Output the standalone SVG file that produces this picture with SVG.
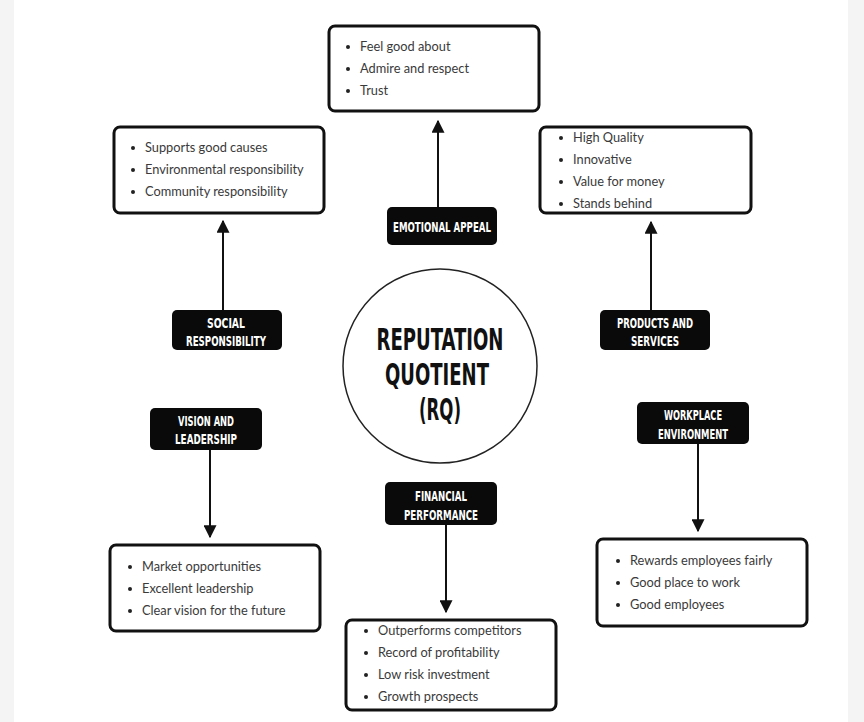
<svg xmlns="http://www.w3.org/2000/svg" width="864" height="722" viewBox="0 0 864 722">
<defs>
<style>
.box{fill:#fff;stroke:#111;stroke-width:3}
.lbl{fill:#0a0a0a}
.bt{font-family:Lato,"Liberation Sans",sans-serif;font-size:12.8px;fill:#3a3a3a}
.lt{font-family:"DejaVu Sans Condensed","Liberation Sans",sans-serif;font-weight:bold;font-size:14px;fill:#fff;text-anchor:middle}
.ct{font-family:"DejaVu Sans Condensed","Liberation Sans",sans-serif;font-weight:bold;font-size:30px;fill:#111;text-anchor:middle}
.cn{stroke:#111;stroke-width:2;fill:none}
</style>
<marker id="ah" viewBox="0 0 10 10" refX="9" refY="5" markerWidth="6.5" markerHeight="6.5" orient="auto-start-reverse">
<path d="M0,0 L10,5 L0,10 z" fill="#111"/>
</marker>
<circle id="b" r="2" fill="#222"/>
</defs>
<rect x="0" y="0" width="864" height="722" fill="#f4f4f4"/>
<rect x="14" y="0" width="834" height="722" fill="#fff"/>

<g id="connectors">
<line class="cn" x1="438" y1="207" x2="438" y2="121" marker-end="url(#ah)"/>
<line class="cn" x1="223" y1="310" x2="223" y2="221" marker-end="url(#ah)"/>
<line class="cn" x1="651" y1="310" x2="651" y2="222" marker-end="url(#ah)"/>
<line class="cn" x1="210" y1="450" x2="210" y2="537" marker-end="url(#ah)"/>
<line class="cn" x1="698" y1="444" x2="698" y2="531" marker-end="url(#ah)"/>
<line class="cn" x1="446" y1="525" x2="446" y2="612" marker-end="url(#ah)"/>
</g>

<g id="center">
<circle cx="440" cy="366" r="97" fill="#fff" stroke="#222" stroke-width="1.5"/>
<text class="ct" x="440" y="350" textLength="127" lengthAdjust="spacingAndGlyphs">REPUTATION</text>
<text class="ct" x="437" y="385" textLength="104" lengthAdjust="spacingAndGlyphs">QUOTIENT</text>
<text class="ct" x="440" y="420" textLength="42" lengthAdjust="spacingAndGlyphs">(RQ)</text>
</g>

<g id="box-emotional">
<rect class="box" x="329" y="26" width="210" height="85" rx="6"/>
<use href="#b" x="348" y="47"/><text class="bt" x="360" y="51">Feel good about</text>
<use href="#b" x="348" y="69"/><text class="bt" x="360" y="73">Admire and respect</text>
<use href="#b" x="348" y="91"/><text class="bt" x="360" y="95">Trust</text>
</g>

<g id="box-social">
<rect class="box" x="114" y="127" width="210" height="86" rx="6"/>
<use href="#b" x="133" y="148"/><text class="bt" x="145" y="152">Supports good causes</text>
<use href="#b" x="133" y="170"/><text class="bt" x="145" y="174">Environmental responsibility</text>
<use href="#b" x="133" y="192"/><text class="bt" x="145" y="196">Community responsibility</text>
</g>

<g id="box-products">
<rect class="box" x="540" y="127" width="211" height="86" rx="6"/>
<use href="#b" x="561" y="138"/><text class="bt" x="573" y="142">High Quality</text>
<use href="#b" x="561" y="160"/><text class="bt" x="573" y="164">Innovative</text>
<use href="#b" x="561" y="182"/><text class="bt" x="573" y="186">Value for money</text>
<use href="#b" x="561" y="204"/><text class="bt" x="573" y="208">Stands behind</text>
</g>

<g id="box-vision">
<rect class="box" x="110" y="545" width="210" height="86" rx="6"/>
<use href="#b" x="130" y="567"/><text class="bt" x="142" y="571">Market opportunities</text>
<use href="#b" x="130" y="589"/><text class="bt" x="142" y="593">Excellent leadership</text>
<use href="#b" x="130" y="611"/><text class="bt" x="142" y="615">Clear vision for the future</text>
</g>

<g id="box-financial">
<rect class="box" x="346" y="620" width="210" height="90" rx="6"/>
<use href="#b" x="366" y="631"/><text class="bt" x="378" y="635">Outperforms competitors</text>
<use href="#b" x="366" y="653"/><text class="bt" x="378" y="657">Record of profitability</text>
<use href="#b" x="366" y="675"/><text class="bt" x="378" y="679">Low risk investment</text>
<use href="#b" x="366" y="697"/><text class="bt" x="378" y="701">Growth prospects</text>
</g>

<g id="box-workplace">
<rect class="box" x="597" y="539" width="210" height="87" rx="6"/>
<use href="#b" x="618" y="561"/><text class="bt" x="630" y="565">Rewards employees fairly</text>
<use href="#b" x="618" y="583"/><text class="bt" x="630" y="587">Good place to work</text>
<use href="#b" x="618" y="605"/><text class="bt" x="630" y="609">Good employees</text>
</g>

<g id="label-emotional">
<rect class="lbl" x="387" y="207" width="110" height="38" rx="5"/>
<text class="lt" x="442" y="232" textLength="98" lengthAdjust="spacingAndGlyphs">EMOTIONAL APPEAL</text>
</g>
<g id="label-social">
<rect class="lbl" x="172" y="310" width="110" height="40" rx="5"/>
<text class="lt" x="226" y="328" textLength="38" lengthAdjust="spacingAndGlyphs">SOCIAL</text>
<text class="lt" x="226" y="346" textLength="80" lengthAdjust="spacingAndGlyphs">RESPONSIBILITY</text>
</g>
<g id="label-products">
<rect class="lbl" x="600" y="310" width="110" height="40" rx="5"/>
<text class="lt" x="655" y="328" textLength="76" lengthAdjust="spacingAndGlyphs">PRODUCTS AND</text>
<text class="lt" x="655" y="346" textLength="48" lengthAdjust="spacingAndGlyphs">SERVICES</text>
</g>
<g id="label-vision">
<rect class="lbl" x="150" y="408" width="112" height="42" rx="5"/>
<text class="lt" x="206" y="426" textLength="56" lengthAdjust="spacingAndGlyphs">VISION AND</text>
<text class="lt" x="206" y="444" textLength="62" lengthAdjust="spacingAndGlyphs">LEADERSHIP</text>
</g>
<g id="label-workplace">
<rect class="lbl" x="637" y="402" width="112" height="42" rx="5"/>
<text class="lt" x="693" y="420" textLength="58" lengthAdjust="spacingAndGlyphs">WORKPLACE</text>
<text class="lt" x="693" y="439" textLength="70" lengthAdjust="spacingAndGlyphs">ENVIRONMENT</text>
</g>
<g id="label-financial">
<rect class="lbl" x="385" y="482" width="112" height="43" rx="5"/>
<text class="lt" x="441" y="501" textLength="52" lengthAdjust="spacingAndGlyphs">FINANCIAL</text>
<text class="lt" x="441" y="520" textLength="74" lengthAdjust="spacingAndGlyphs">PERFORMANCE</text>
</g>
</svg>
